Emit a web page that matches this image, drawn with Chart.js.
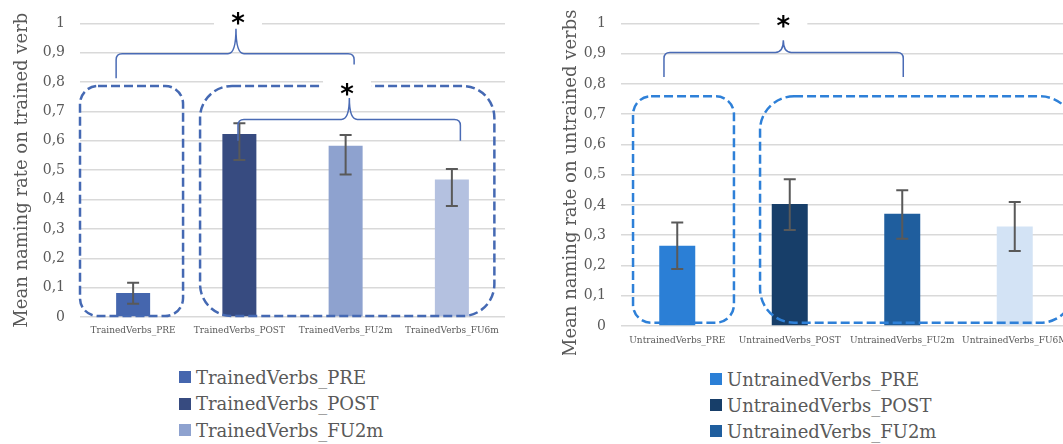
<!DOCTYPE html>
<html>
<head>
<meta charset="utf-8">
<script src="https://cdn.jsdelivr.net/npm/chart.js@4.4.0/dist/chart.umd.min.js"></script>
<style>
  body { margin: 0; width: 1063px; height: 444px; overflow: hidden; position: relative; background: #fff; font-family: "DejaVu Serif", serif; }
  .wrap { position: absolute; top: 0; }
  .legend { position: absolute; color: #595959; font-size: 18px; white-space: nowrap; }
  .legend .row { display: flex; align-items: center; }
  .legend .box { width: 12px; height: 12px; margin-right: 5px; flex: none; }
</style>
</head>
<body>
<div class="wrap" style="left:0;width:530px;height:345px"><canvas id="trainedChart"></canvas></div>
<div class="wrap" style="left:540px;width:550px;height:355px"><canvas id="untrainedChart"></canvas></div>
<div class="legend" id="trainedLegend" style="left:179px;top:364px"></div>
<div class="legend" id="untrainedLegend" style="left:710px;top:366px"></div>
<script>
const trainedLabels = ["TrainedVerbs_PRE", "TrainedVerbs_POST", "TrainedVerbs_FU2m", "TrainedVerbs_FU6m"];
const trainedMeans = [0.082, 0.623, 0.583, 0.468];
const trainedErrLow = [0.045, 0.535, 0.485, 0.378];
const trainedErrHigh = [0.117, 0.660, 0.620, 0.504];
const trainedColors = ["#4566ae", "#374b80", "#8ea2cf", "#b4c1e0"];

const untrainedLabels = ["UntrainedVerbs_PRE", "UntrainedVerbs_POST", "UntrainedVerbs_FU2m", "UntrainedVerbs_FU6M"];
const untrainedMeans = [0.265, 0.403, 0.371, 0.329];
const untrainedErrLow = [0.188, 0.317, 0.288, 0.248];
const untrainedErrHigh = [0.342, 0.485, 0.449, 0.410];
const untrainedColors = ["#2b7fd6", "#173e69", "#1f5e9e", "#d3e3f5"];

const yTickLabels = ["0", "0,1", "0,2", "0,3", "0,4", "0,5", "0,6", "0,7", "0,8", "0,9", "1"];

// group boxes, braces and stars, in category index / value units
const trainedBoxes = [
  { x0: -0.5, x1: 0.47, y0: 0.003, y1: 0.787, r: 18 },
  { x0: 0.63, x1: 3.40, y0: 0.003, y1: 0.787, r: 32 }
];
const trainedBraces = [
  { x0: -0.16, x1: 2.08, end0: 0.813, end1: 0.860, line: 0.897, peakX: 0.968, peakY: 0.982 },
  { x0: 0.987, x1: 3.08, end0: 0.600, end1: 0.600, line: 0.673, peakX: 2.035, peakY: 0.746 }
];
const trainedStars = [{ x: 0.987, y: 1.016 }, { x: 2.013, y: 0.776 }];

const untrainedBoxes = [
  { x0: -0.393, x1: 0.504, y0: 0.011, y1: 0.759, r: 18 },
  { x0: 0.736, x1: 3.53, y0: 0.011, y1: 0.759, r: 34 }
];
const untrainedBraces = [
  { x0: -0.118, x1: 2.009, end0: 0.823, end1: 0.823, line: 0.904, peakX: 0.943, peakY: 0.944 }
];
const untrainedStars = [{ x: 0.943, y: 1.006 }];

Chart.defaults.font.family = "DejaVu Serif";
Chart.defaults.color = "#595959";

const overlayPlugin = {
  id: "overlay",
  afterDatasetsDraw(chart, args, o) {
    const ctx = chart.ctx;
    const X = v => chart.scales.x.getPixelForValue(v);
    const Y = v => chart.scales.y.getPixelForValue(v);
    ctx.save();

    // error bars
    ctx.strokeStyle = "#595959";
    ctx.lineWidth = 2;
    o.low.forEach((lo, i) => {
      const cx = X(i), y0 = Y(lo), y1 = Y(o.high[i]);
      ctx.beginPath();
      ctx.moveTo(cx, y0); ctx.lineTo(cx, y1);
      ctx.moveTo(cx - 6, y0); ctx.lineTo(cx + 6, y0);
      ctx.moveTo(cx - 6, y1); ctx.lineTo(cx + 6, y1);
      ctx.stroke();
    });

    // dashed group boxes
    ctx.strokeStyle = o.boxColor;
    ctx.lineWidth = 2.5;
    ctx.setLineDash([9, 4]);
    o.boxes.forEach(b => {
      const l = X(b.x0), r = X(b.x1), t = Y(b.y1), btm = Y(b.y0);
      ctx.beginPath();
      ctx.roundRect(l, t, r - l, btm - t, b.r);
      ctx.stroke();
    });
    ctx.setLineDash([]);

    // white patch behind stars
    ctx.fillStyle = "#fff";
    o.stars.forEach(s => ctx.fillRect(X(s.x) - 24, Y(s.y) - 12, 48, 24));

    // braces
    ctx.strokeStyle = o.braceColor;
    ctx.lineWidth = 1.5;
    o.braces.forEach(b => {
      const x0 = X(b.x0), x1 = X(b.x1), yl = Y(b.line), xp = X(b.peakX), yp = Y(b.peakY);
      const r = 6, w = 8;
      ctx.beginPath();
      ctx.moveTo(x0, Y(b.end0));
      ctx.lineTo(x0, yl + r);
      ctx.quadraticCurveTo(x0, yl, x0 + r, yl);
      ctx.lineTo(xp - w, yl);
      ctx.quadraticCurveTo(xp, yl, xp, yp);
      ctx.quadraticCurveTo(xp, yl, xp + w, yl);
      ctx.lineTo(x1 - r, yl);
      ctx.quadraticCurveTo(x1, yl, x1, yl + r);
      ctx.lineTo(x1, Y(b.end1));
      ctx.stroke();
    });

    // significance stars
    ctx.fillStyle = "#000";
    ctx.font = 'bold 26px "DejaVu Sans"';
    ctx.textAlign = "center";
    ctx.textBaseline = "alphabetic";
    o.stars.forEach(s => {
      const m = ctx.measureText("*");
      ctx.fillText("*", X(s.x), Y(s.y) + (m.actualBoundingBoxAscent - m.actualBoundingBoxDescent) / 2);
    });
    ctx.restore();
  }
};

function makeChart(id, cfg) {
  return new Chart(document.getElementById(id), {
    type: "bar",
    data: {
      labels: cfg.labels,
      datasets: [{ data: cfg.means, backgroundColor: cfg.colors, categoryPercentage: 1, barPercentage: 0.32 }]
    },
    options: {
      responsive: true,
      maintainAspectRatio: false,
      animation: false,
      layout: { padding: cfg.padding },
      plugins: {
        legend: { display: false },
        tooltip: { enabled: false },
        overlay: {
          low: cfg.low, high: cfg.high,
          boxes: cfg.boxes, braces: cfg.braces, stars: cfg.stars,
          boxColor: cfg.boxColor, braceColor: "#4a6bb5"
        }
      },
      scales: {
        x: {
          afterFit: s => { s.height = cfg.xHeight; },
          grid: { display: false, drawTicks: false },
          border: { display: false },
          ticks: { padding: cfg.xPad, color: "#595959", font: { size: 9 }, maxRotation: 0, autoSkip: false }
        },
        y: {
          min: 0, max: 1,
          afterFit: s => { s.width = cfg.yWidth; },
          grid: { color: "#d9d9d9", lineWidth: 1.5, drawTicks: false },
          border: { display: false },
          ticks: { stepSize: 0.1, padding: 15, color: "#595959", font: { size: 14 }, callback: (v, i) => yTickLabels[i] },
          title: { display: true, text: cfg.title, color: "#595959", font: { size: 18 }, padding: { top: cfg.titlePad } }
        }
      }
    },
    plugins: [overlayPlugin]
  });
}

function buildLegend(id, labels, colors, rowH) {
  document.getElementById(id).innerHTML = labels.map((l, i) =>
    `<div class="row" style="height:${rowH}px"><span class="box" style="background:${colors[i]}"></span>${l}</div>`
  ).join("");
}

makeChart("trainedChart", {
  labels: trainedLabels, means: trainedMeans, colors: trainedColors,
  low: trainedErrLow, high: trainedErrHigh,
  boxes: trainedBoxes, braces: trainedBraces, stars: trainedStars, boxColor: "#4569b3",
  padding: { top: 21, right: 25, bottom: 0, left: 0 },
  xHeight: 28, xPad: 8, yWidth: 80, titlePad: 12,
  title: "Mean naming rate on trained verb"
});

makeChart("untrainedChart", {
  labels: untrainedLabels, means: untrainedMeans, colors: untrainedColors,
  low: untrainedErrLow, high: untrainedErrHigh,
  boxes: untrainedBoxes, braces: untrainedBraces, stars: untrainedStars, boxColor: "#2e80d8",
  padding: { top: 16, right: 19, bottom: 0, left: 0 },
  xHeight: 29, xPad: 9, yWidth: 81, titlePad: 21,
  title: "Mean naming rate on untrained verbs   "
});

buildLegend("trainedLegend", trainedLabels, trainedColors, 26.5);
buildLegend("untrainedLegend", untrainedLabels, untrainedColors, 26);
</script>
</body>
</html>
